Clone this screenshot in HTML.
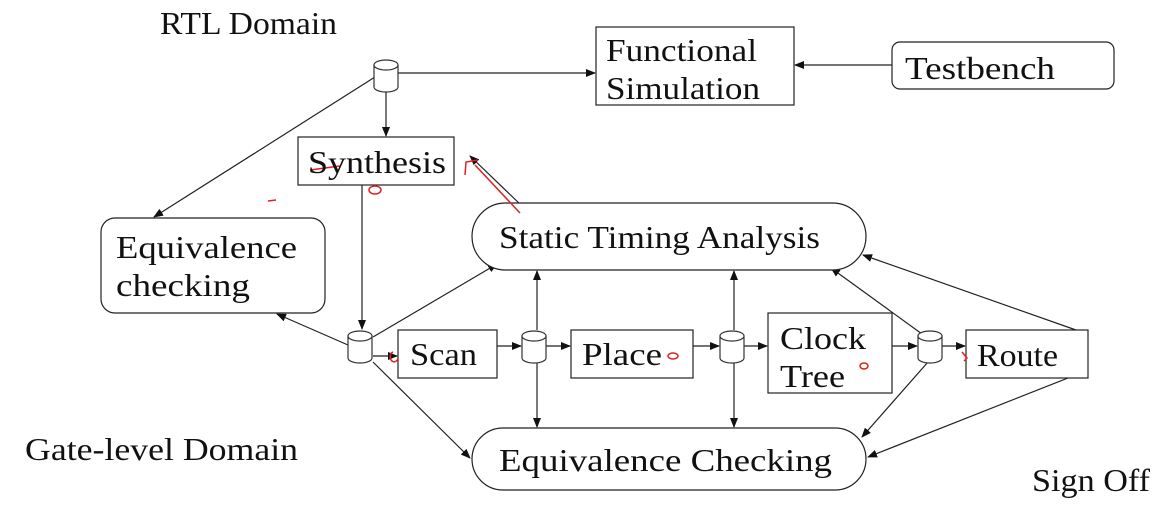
<!DOCTYPE html>
<html><head><meta charset="utf-8"><style>
html,body{margin:0;padding:0;background:#fff;}
svg text{font-family:"Liberation Serif","DejaVu Serif",serif;font-size:32px;fill:#111;}
</style></head><body>
<svg width="1165" height="518" viewBox="0 0 1165 518" xmlns="http://www.w3.org/2000/svg">
<defs>
<marker id="a" markerWidth="10" markerHeight="8" refX="9" refY="4" orient="auto" markerUnits="userSpaceOnUse">
<path d="M0,0 L10,4 L0,8 z" fill="#111"/></marker>
<g id="cyl">
<path d="M-12,-11 L-12,11 A12,5 0 0 0 12,11 L12,-11" fill="#fff" stroke="#333" stroke-width="1.2"/>
<ellipse cx="0" cy="-11" rx="12" ry="5" fill="#fff" stroke="#333" stroke-width="1.2"/>
</g>
</defs>
<g stroke="#222" stroke-width="1.2" fill="none">
<line x1="397" y1="73" x2="595" y2="73" marker-end="url(#a)"/>
<line x1="892" y1="65" x2="795" y2="65" marker-end="url(#a)"/>
<line x1="386" y1="90" x2="386" y2="136" marker-end="url(#a)"/>
<line x1="375" y1="77" x2="154" y2="217" marker-end="url(#a)"/>
<line x1="362" y1="185" x2="362" y2="329" marker-end="url(#a)"/>
<line x1="522" y1="206" x2="470" y2="156" marker-end="url(#a)"/>
<line x1="348" y1="345" x2="277" y2="314" marker-end="url(#a)"/>
<line x1="373" y1="337" x2="497" y2="264" marker-end="url(#a)"/>
<line x1="373" y1="356" x2="397" y2="356" marker-end="url(#a)"/>
<line x1="497" y1="346" x2="521" y2="346" marker-end="url(#a)"/>
<line x1="546" y1="346" x2="570" y2="346" marker-end="url(#a)"/>
<line x1="693" y1="346" x2="719" y2="346" marker-end="url(#a)"/>
<line x1="744" y1="346" x2="767" y2="346" marker-end="url(#a)"/>
<line x1="892" y1="346" x2="917" y2="346" marker-end="url(#a)"/>
<line x1="942" y1="346" x2="965" y2="346" marker-end="url(#a)"/>
<line x1="537" y1="330" x2="537" y2="271" marker-end="url(#a)"/>
<line x1="537" y1="362" x2="537" y2="427" marker-end="url(#a)"/>
<line x1="734" y1="330" x2="734" y2="271" marker-end="url(#a)"/>
<line x1="734" y1="362" x2="734" y2="427" marker-end="url(#a)"/>
<line x1="922" y1="334" x2="831" y2="268" marker-end="url(#a)"/>
<line x1="1076" y1="330" x2="863" y2="255" marker-end="url(#a)"/>
<line x1="373" y1="362" x2="470" y2="458" marker-end="url(#a)"/>
<line x1="928" y1="362" x2="862" y2="437" marker-end="url(#a)"/>
<line x1="1068" y1="378" x2="868" y2="457" marker-end="url(#a)"/>
<rect x="596" y="27" width="198" height="78" fill="#fff"/>
<rect x="892" y="42" width="222" height="47" rx="8" fill="#fff"/>
<rect x="298" y="137" width="156" height="48" fill="#fff"/>
<rect x="472" y="203" width="394" height="67" rx="33.5" ry="33.5" fill="#fff"/>
<rect x="101" y="218" width="224" height="95" rx="14" fill="#fff"/>
<rect x="398" y="330" width="99" height="48" fill="#fff"/>
<rect x="571" y="330" width="122" height="48" fill="#fff"/>
<rect x="768" y="313" width="124" height="80" fill="#fff"/>
<rect x="966" y="330" width="122" height="48" fill="#fff"/>
<rect x="472" y="428" width="394" height="62" rx="31" ry="31" fill="#fff"/>
</g>
<use href="#cyl" x="386" y="76"/>
<use href="#cyl" x="360" y="347"/>
<use href="#cyl" x="534" y="347"/>
<use href="#cyl" x="732" y="347"/>
<use href="#cyl" x="930" y="347"/>
<g stroke="#e02020" stroke-width="1.5" fill="none">
<path d="M520,213 L475,165 M465,175 L466,162 L478,160"/>
<ellipse cx="375" cy="190" rx="6" ry="4"/>
<ellipse cx="673" cy="356" rx="5" ry="3"/>
<ellipse cx="864" cy="366" rx="4" ry="3"/>
<path d="M393,352 a4,5 0 1 0 5,6 M962,352 l5,6 l-3,3 M310,170 l30,-4 M268,201 l8,-1"/>
</g>
<g>
<text x="160" y="34" textLength="177" lengthAdjust="spacingAndGlyphs">RTL Domain</text>
<text x="606" y="61" textLength="151" lengthAdjust="spacingAndGlyphs">Functional</text>
<text x="606" y="99" textLength="154" lengthAdjust="spacingAndGlyphs">Simulation</text>
<text x="905" y="79" textLength="150" lengthAdjust="spacingAndGlyphs">Testbench</text>
<text x="308" y="173" textLength="138" lengthAdjust="spacingAndGlyphs">Synthesis</text>
<text x="499" y="248" textLength="321" lengthAdjust="spacingAndGlyphs">Static Timing Analysis</text>
<text x="116" y="258" textLength="181" lengthAdjust="spacingAndGlyphs">Equivalence</text>
<text x="116" y="296" textLength="134" lengthAdjust="spacingAndGlyphs">checking</text>
<text x="410" y="365" textLength="67" lengthAdjust="spacingAndGlyphs">Scan</text>
<text x="582" y="365" textLength="80" lengthAdjust="spacingAndGlyphs">Place</text>
<text x="780" y="349" textLength="86" lengthAdjust="spacingAndGlyphs">Clock</text>
<text x="780" y="387" textLength="65" lengthAdjust="spacingAndGlyphs">Tree</text>
<text x="977" y="366" textLength="81" lengthAdjust="spacingAndGlyphs">Route</text>
<text x="499" y="471" textLength="333" lengthAdjust="spacingAndGlyphs">Equivalence Checking</text>
<text x="25" y="460" textLength="273" lengthAdjust="spacingAndGlyphs">Gate-level Domain</text>
<text x="1032" y="491" textLength="118" lengthAdjust="spacingAndGlyphs">Sign Off</text>
</g>
</svg>
</body></html>
